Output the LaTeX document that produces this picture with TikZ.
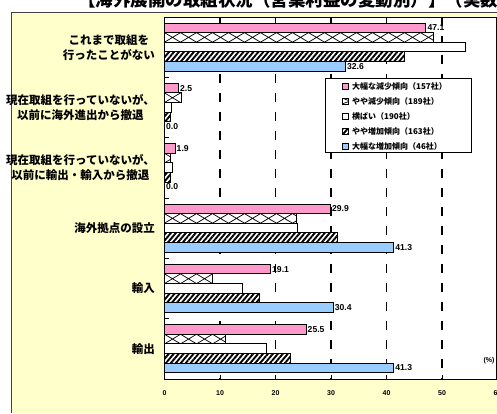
\documentclass[tikz,border=0pt]{standalone}
\usepackage{fontspec}
\setmainfont{Liberation Sans}
\newfontfamily\jpfont{Noto Sans CJK JP}
\usetikzlibrary{patterns.meta}

\definecolor{panelyellow}{RGB}{255,255,204}
\definecolor{barpink}{RGB}{255,153,204}
\definecolor{barblue}{RGB}{153,204,255}

\begin{document}
\begin{tikzpicture}[x=1pt,y=-1pt,
 bar/.style={draw=black,line width=0.9pt},
 pinkfill/.style={fill=barpink},
 bluefill/.style={fill=barblue},
 whitefill/.style={fill=white},
 crossfill/.style={fill=white,path picture={
   \foreach \k in {0,...,24}
    \draw[line width=0.7pt]
     ([xshift=\k*16pt]path picture bounding box.north west) -- ([xshift=\k*16pt+16pt]path picture bounding box.south west)
     ([xshift=\k*16pt+16pt]path picture bounding box.north west) -- ([xshift=\k*16pt]path picture bounding box.south west);}},
 hatchfill/.style={preaction={fill=white},preaction={pattern={Lines[angle=50,distance=3.8pt,line width=1.9pt]}}},
 cat label/.style={font=\jpfont\bfseries\fontsize{11.5}{15}\selectfont,align=center,anchor=east,inner sep=0pt},
 val label/.style={font=\bfseries\fontsize{8.6}{9}\selectfont,anchor=west,inner sep=1.5pt},
 axis label/.style={font=\bfseries\fontsize{7}{8}\selectfont,inner sep=0pt},
 key label/.style={font=\jpfont\bfseries\fontsize{8}{10}\selectfont,anchor=west,inner sep=0pt}]

 \useasboundingbox (0,0) rectangle (497,413);
 \begin{scope}
  \clip (0,0) rectangle (497,413);
  \node[font=\jpfont\bfseries\fontsize{17.5}{18}\selectfont,anchor=base west,inner sep=0pt] (title) at (78,6.5) {【海外展開の取組状況（営業利益の変動別）】（実数）};
 \end{scope}

 \fill[panelyellow] (11,12) rectangle (497,413);
 \draw[line width=1pt,black!75] (497,12.5) -- (11.5,12.5) -- (11.5,413);

 % plot area and grid
 \fill[white] (164.5,17) rectangle (496.5,379);
 \foreach \v in {10,20,...,50}
  \draw[line width=1.3pt,dash pattern=on 9pt off 10pt] ({164.5+5.55*\v},17) -- ({164.5+5.55*\v},379);

 % group/pink/cross/flat/hatched/blue
 \foreach \i/\p/\c/\w/\h/\b in {0/47.1/48.5/54.2/43.2/32.6, 1/2.5/3.1/1.3/1.0/0.0, 2/1.9/1.1/1.4/1.0/0.0,
   3/29.9/23.8/23.9/31.1/41.3, 4/19.1/8.7/14.0/17.1/30.4, 5/25.5/10.9/18.4/22.7/41.3}{
  \pgfmathsetmacro\ytop{23+60.33*\i}
  \draw[bar,pinkfill] (164.5,\ytop) rectangle ({164.5+5.55*\p},\ytop+9.6);
  \draw[bar,crossfill] (164.5,\ytop+9.6) rectangle ({164.5+5.55*\c},\ytop+19.2);
  \draw[bar,whitefill] (164.5,\ytop+19.2) rectangle ({164.5+5.55*\w},\ytop+28.8);
  \draw[bar,hatchfill] (164.5,\ytop+28.8) rectangle ({164.5+5.55*\h},\ytop+38.4);
  \draw[bar,bluefill] (164.5,\ytop+38.4) rectangle ({164.5+5.55*\b},\ytop+48);
  \node[val label] (p\i) at ({164.5+5.55*\p},\ytop+4.8) {\p};
  \node[val label] (b\i) at ({164.5+5.55*\b},\ytop+43.2) {\b};
 }

 \foreach \i/\txt in {0/{これまで取組を\\行ったことがない}, 1/{現在取組を行っていないが、\\以前に海外進出から撤退},
   2/{現在取組を行っていないが、\\以前に輸出・輸入から撤退}, 3/海外拠点の設立, 4/輸入, 5/輸出}
  \node[cat label] (cat\i) at (155,{47.2+60.33*\i}) {\txt};

 % axes
 \foreach \i in {1,...,5}
  \draw[line width=0.9pt] (164.5,{17+60.33*\i}) -- (169,{17+60.33*\i});
 \foreach \v in {10,20,...,50}
  \draw[line width=0.9pt] ({164.5+5.55*\v},379) -- ({164.5+5.55*\v},375);
 \draw[line width=1pt] (164.5,17) rectangle (496.5,379);
 \foreach \v in {0,10,...,60}
  \node[axis label] (x\v) at ({164.5+5.55*\v},393) {\v};
 \node[axis label] (unit) at (489,361) {(\%)};

 % legend
 \draw[line width=0.9pt,fill=white] (325,78) rectangle (471.5,152.5);
 \foreach \k/\s/\txt in {0/pinkfill/大幅な減少傾向（157社）, 1/crossfill/やや減少傾向（189社）, 2/whitefill/横ばい（190社）,
   3/hatchfill/やや増加傾向（163社）, 4/bluefill/大幅な増加傾向（46社）}{
  \draw[bar,line width=0.7pt,\s] (342,{83+15*\k}) rectangle (348,{89+15*\k});
  \node[key label] (key\k) at (352,{86+15*\k}) {\txt};
 }
\end{tikzpicture}
\end{document}
